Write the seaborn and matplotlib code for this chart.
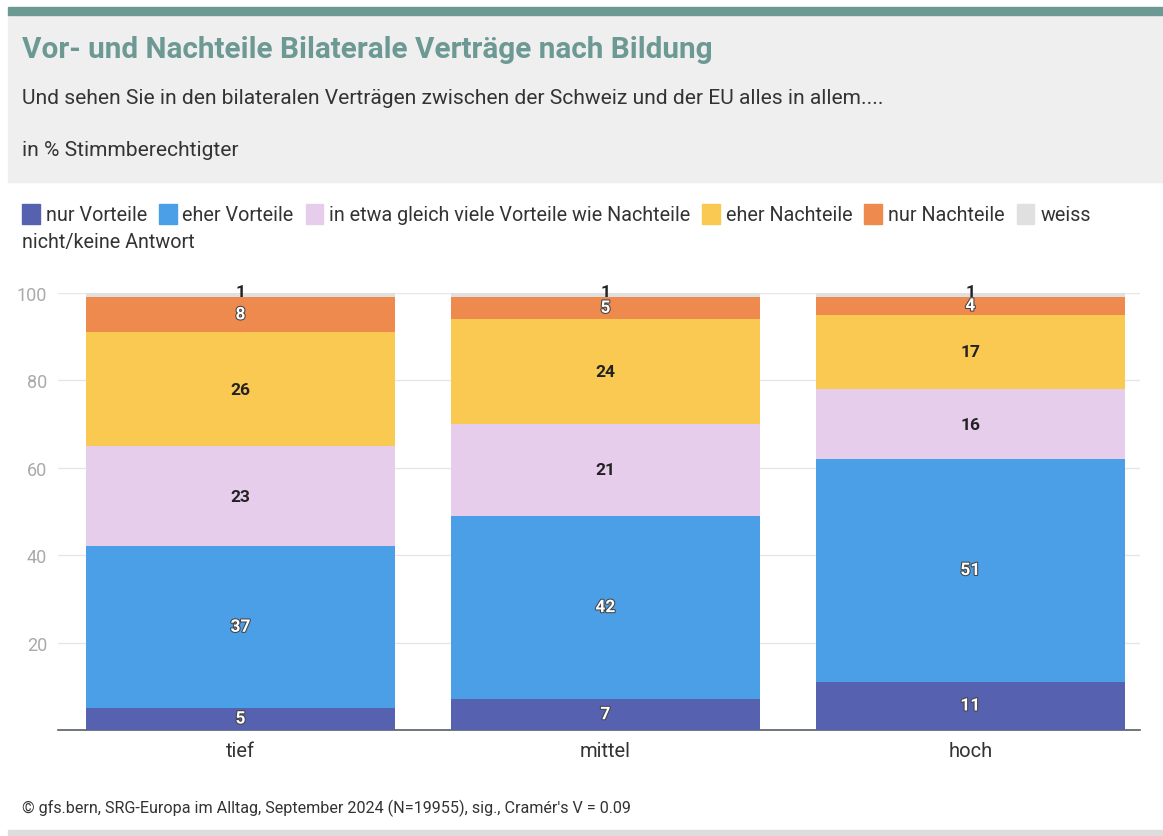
import matplotlib
matplotlib.use("Agg")
import matplotlib.pyplot as plt
import matplotlib.patches as mpatches
import matplotlib.patheffects as pe
import seaborn as sns
import pandas as pd
import numpy as np

categories = ["tief", "mittel", "hoch"]
series = ["nur Vorteile", "eher Vorteile", "in etwa gleich viele Vorteile wie Nachteile",
          "eher Nachteile", "nur Nachteile", "weiss nicht/keine Antwort"]
nur_vorteile = [5, 7, 11]
eher_vorteile = [37, 42, 51]
gleich_viele = [23, 21, 16]
eher_nachteile = [26, 24, 17]
nur_nachteile = [8, 5, 4]
weiss_nicht = [1, 1, 1]
values = [nur_vorteile, eher_vorteile, gleich_viele, eher_nachteile, nur_nachteile, weiss_nicht]
colors = ["#5661b0", "#4a9fe6", "#e6cdec", "#f9c952", "#ee8a4e", "#e0e0e0"]
label_colors = ["white", "white", "#222222", "#222222", "white", "#222222"]
yticks = [20, 40, 60, 80, 100]

sns.set_theme(style="white")
plt.rcParams["font.family"] = ["Roboto", "DejaVu Sans"]

W, H = 1163, 837
fig = plt.figure(figsize=(W / 100, H / 100), dpi=100)

def fx(x):
    return x / W

def fy(y):
    return 1 - y / H

# header
fig.patches.append(mpatches.Rectangle((fx(8), fy(183)), fx(1155), (183 - 16) / H,
                                      transform=fig.transFigure, color="#efefef", zorder=0))
fig.patches.append(mpatches.Rectangle((fx(8), fy(16)), fx(1155), 8 / H,
                                      transform=fig.transFigure, color="#6d9994", zorder=0))
fig.patches.append(mpatches.Rectangle((fx(8), 0), fx(1155), 6 / H,
                                      transform=fig.transFigure, color="#dddddd", zorder=0))

fig.text(fx(22), fy(50), "Vor- und Nachteile Bilaterale Verträge nach Bildung",
         fontsize=21.4, fontweight="bold", color="#6d9994", va="center", ha="left")
fig.text(fx(22), fy(98), "Und sehen Sie in den bilateralen Verträgen zwischen der Schweiz und der EU alles in allem....",
         fontsize=15.1, color="#333333", va="center", ha="left")
fig.text(fx(22), fy(150), "in % Stimmberechtigter", fontsize=15.1, color="#333333", va="center", ha="left")
fig.text(fx(22), fy(808), "© gfs.bern, SRG-Europa im Alltag, September 2024 (N=19955), sig., Cramér's V = 0.09",
         fontsize=11.6, color="#333333", va="center", ha="left")

ax = fig.add_axes([fx(58), fy(731), fx(1140 - 58), (731 - 294) / H])

rows = []
for s, vals in zip(series, values):
    for c, v in zip(categories, vals):
        rows.append({"Bildung": c, "Antwort": s, "Wert": v})
df = pd.DataFrame(rows)

bottom = np.zeros(len(categories))
for i, s in enumerate(series):
    sub = df[df["Antwort"] == s]
    sns.barplot(data=sub, x="Bildung", y="Wert", order=categories, color=colors[i],
                width=0.847, bottom=bottom, ax=ax, linewidth=0, saturation=1, zorder=3)
    cont = ax.containers[-1]
    labels = ax.bar_label(cont, labels=[str(v) for v in sub["Wert"]], label_type="center",
                          fontsize=12.5, fontweight="bold", color=label_colors[i])
    if label_colors[i] == "white":
        for t in labels:
            t.set_path_effects([pe.withStroke(linewidth=1.5, foreground="#444444")])
    if i == len(series) - 1:
        for t in labels:
            t.xyann = (0, 2.5)
    bottom = bottom + sub["Wert"].to_numpy()

ax.set_ylim(0, 100)
ax.set_xlim(-0.5, 2.465)
ax.set_yticks(yticks)
ax.set_yticklabels([str(t) for t in yticks], color="#aaaaaa", fontsize=13)
ax.tick_params(axis="y", length=0, pad=8)
ax.tick_params(axis="x", length=0, pad=8, labelsize=14.5, labelcolor="#333333")
ax.set_xlabel("")
ax.set_ylabel("")
ax.grid(axis="y", color="#e6e6e6", linewidth=1, zorder=0)
for s in ["left", "right", "top"]:
    ax.spines[s].set_visible(False)
ax.spines["bottom"].set_color("#555e6a")
ax.spines["bottom"].set_linewidth(1.2)
ax.set_facecolor("none")

# legend
handles = [mpatches.Patch(color=c) for c in colors]
leg_labels = list(series)
leg_labels[-1] = "weiss"
leg = fig.legend(handles, leg_labels, loc="center left", bbox_to_anchor=(fx(22), fy(215)),
                 ncol=6, frameon=False, fontsize=14.2, handlelength=0.9, handleheight=1.2,
                 handletextpad=0.3, columnspacing=0.6, labelcolor="#333333",
                 borderpad=0, borderaxespad=0)
fig.text(fx(22), fy(243), "nicht/keine Antwort", fontsize=14.2, color="#333333", va="center", ha="left")

fig.savefig("out.png", dpi=100)
